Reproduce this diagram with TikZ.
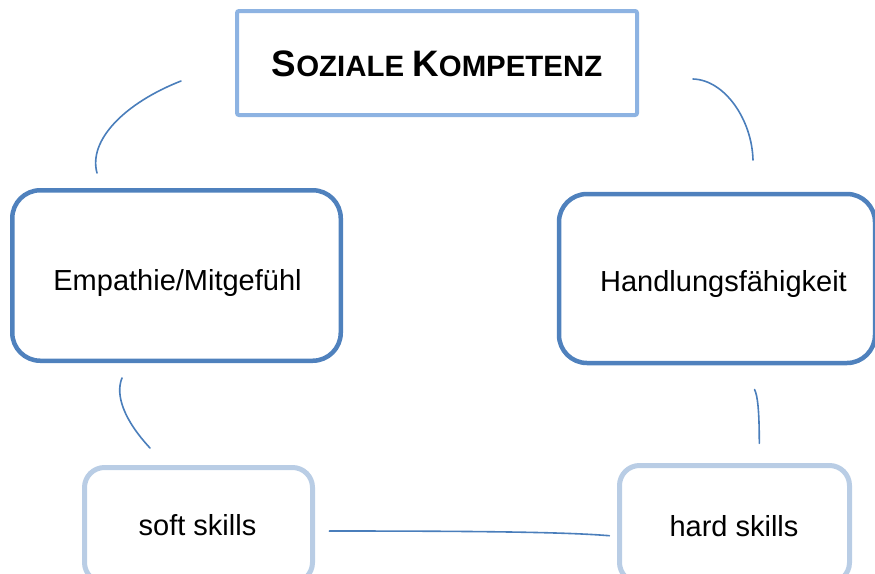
\documentclass[tikz,border=0pt]{standalone}
\usepackage{fontspec}
\setmainfont{Liberation Sans}

\definecolor{darkline}{HTML}{4F81BD}
\definecolor{midline}{HTML}{8DB3E2}
\definecolor{paleline}{HTML}{B9CDE5}
\definecolor{linkline}{HTML}{4A7EBB}

\newcommand{\titlecapA}[1]{{\fontsize{36.8pt}{40pt}\selectfont #1}}
\newcommand{\titlecapB}[1]{{\fontsize{29.4pt}{32pt}\selectfont #1}}

\tikzset{
  titlebox/.style={draw=midline, line width=4pt, rounded corners=2pt,
    minimum width=400pt, minimum height=104pt, inner sep=0pt},
  mainbox/.style={draw=darkline, line width=4.5pt, rounded corners=28pt, inner sep=0pt},
  skillbox/.style={draw=paleline, line width=5pt, rounded corners=20pt, inner sep=0pt},
  boxtext/.style={font=\fontsize{29pt}{34pt}\selectfont, anchor=base, inner sep=0pt},
  link/.style={draw=linkline, line width=1.6pt, line cap=round}
}

\begin{document}
\begin{tikzpicture}[x=1pt, y=-1pt]
  \useasboundingbox (0,0) rectangle (875,573);
  \clip (0,0) rectangle (875,573);

  % frames
  \node[titlebox] (titleframe) at (437,63) {};
  \node[mainbox, minimum width=328.5pt, minimum height=170.5pt] (empbox) at (176.5,275.5) {};
  \node[mainbox, minimum width=316pt, minimum height=169pt] (actbox) at (717,278.5) {};
  \node[skillbox, minimum width=228pt, minimum height=115pt] (softbox) at (198.5,525) {};
  \node[skillbox, minimum width=230pt, minimum height=117pt] (hardbox) at (734.5,524) {};

  % texts
  \node[anchor=base, inner sep=0pt, font=\bfseries] (titletext) at (437,76.5)
    {\titlecapA{S}\titlecapB{OZIALE }\titlecapA{K}\titlecapB{OMPETENZ}};
  \node[boxtext] (emptext) at (177.5,290) {Empathie/Mitgefühl};
  \node[boxtext] (acttext) at (723.5,291.5) {Handlungsfähigkeit};
  \node[boxtext] (softtext) at (197.5,535.5) {soft skills};
  \node[boxtext] (hardtext) at (734,536) {hard skills};

  % loose ends of the connecting strokes
  \coordinate (tlA) at (181,81);
  \coordinate (tlB) at (97,173);
  \coordinate (trA) at (693,79);
  \coordinate (trB) at (753,160);
  \coordinate (blA) at (122,378);
  \coordinate (blB) at (150,448);
  \coordinate (brA) at (754.5,389.5);
  \coordinate (brB) at (759.3,443.3);
  \coordinate (btA) at (329.3,531);
  \coordinate (btB) at (609.3,535.7);

  \draw[link] (tlA) .. controls (125,103) and (88,140) .. (tlB);
  \draw[link] (trA) .. controls (725,80) and (752,120) .. (trB);
  \draw[link] (blA) .. controls (115,395) and (124,420) .. (blB);
  \draw[link] (brA) .. controls (757.5,395) and (759.3,410) .. (brB);
  \draw[link] (btA) .. controls (500,531) and (570,532.5) .. (btB);
\end{tikzpicture}
\end{document}
